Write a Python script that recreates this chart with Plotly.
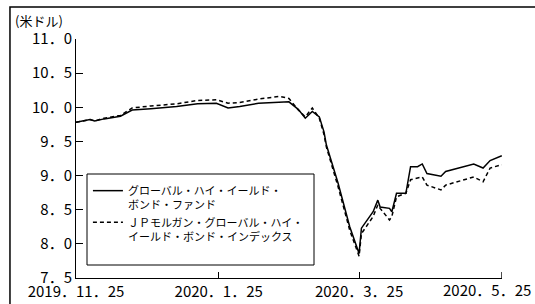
import plotly.graph_objects as go

dates = [
    "2019-11-25", "2019-12-01", "2019-12-03", "2019-12-07", "2019-12-14", "2019-12-19",
    "2019-12-27", "2020-01-07", "2020-01-16", "2020-01-24", "2020-01-29", "2020-02-03",
    "2020-02-11", "2020-02-20", "2020-02-24", "2020-02-28", "2020-03-02", "2020-03-05",
    "2020-03-08", "2020-03-10", "2020-03-11", "2020-03-16", "2020-03-21", "2020-03-25",
    "2020-03-26", "2020-03-31", "2020-04-02", "2020-04-03", "2020-04-07", "2020-04-08",
    "2020-04-10", "2020-04-14", "2020-04-16", "2020-04-19", "2020-04-21", "2020-04-23",
    "2020-04-29", "2020-05-01", "2020-05-13", "2020-05-17", "2020-05-20", "2020-05-25",
]
fund = [
    9.78, 9.82, 9.80, 9.83, 9.87, 9.96,
    9.98, 10.01, 10.05, 10.06, 9.99, 10.01,
    10.06, 10.08, 10.08, 9.97, 9.84, 9.94,
    9.86, 9.64, 9.45, 8.89, 8.25, 7.86,
    8.23, 8.47, 8.64, 8.54, 8.52, 8.47,
    8.74, 8.74, 9.13, 9.13, 9.17, 9.03,
    8.99, 9.06, 9.17, 9.11, 9.22, 9.29,
]
index = [
    9.78, 9.82, 9.80, 9.84, 9.88, 9.99,
    10.02, 10.05, 10.10, 10.11, 10.06, 10.07,
    10.12, 10.16, 10.13, 9.96, 9.86, 9.99,
    9.84, 9.60, 9.42, 8.84, 8.20, 7.82,
    8.15, 8.40, 8.57, 8.52, 8.35, 8.40,
    8.69, 8.74, 8.94, 8.96, 8.98, 8.86,
    8.79, 8.86, 8.98, 8.91, 9.11, 9.16,
]
names = ["グローバル・ハイ・イールド・<br>ボンド・ファンド",
         "ＪＰモルガン・グローバル・ハイ・<br>イールド・ボンド・インデックス"]
y_ticks = [7.5, 8.0, 8.5, 9.0, 9.5, 10.0, 10.5, 11.0]
y_ticktext = ["7．5", "8．0", "8．5", "9．0", "9．5", "10．0", "10．5", "11．0"]
x_ticks = ["2019-11-25", "2020-01-25", "2020-03-25", "2020-05-25"]
x_ticktext = ["2019．11．25", "2020．1．25", "2020．3．25", "2020．5．25"]
unit_label = "(米ドル)"

FONT = "Noto Sans CJK JP"

fig = go.Figure()
fig.add_trace(go.Scatter(x=dates, y=fund, mode="lines", name=names[0], legendgroup="a",
                         line=dict(color="black", width=1.5)))
fig.add_trace(go.Scatter(x=dates, y=index, mode="lines", name=names[1], legendgroup="b",
                         line=dict(color="black", width=1.5, dash="4px,3px")))

fig.update_layout(
    width=535, height=304,
    margin=dict(l=76, r=33, t=39, b=26, autoexpand=False),
    paper_bgcolor="white", plot_bgcolor="white",
    font=dict(family=FONT, color="black", size=15),
    showlegend=True,
    legend=dict(
        x=0.028, y=0.4226, xanchor="left", yanchor="top",
        borderwidth=0, bgcolor="rgba(0,0,0,0)",
        font=dict(family=FONT, size=11, color="black"),
        valign="top", traceorder="grouped", tracegroupgap=0,
    ),
    xaxis=dict(
        type="date", range=["2019-11-25", "2020-05-25 02:00"],
        tickmode="array", tickvals=x_ticks[:-1], ticktext=x_ticktext[:-1],
        ticks="inside", ticklen=6, tickcolor="black", tickwidth=1,
        showline=True, linecolor="black", linewidth=1,
        showgrid=False, zeroline=False, automargin=False,
        tickfont=dict(family=FONT, size=15, color="black"),
    ),
    yaxis=dict(
        range=[7.5, 11.0],
        tickmode="array", tickvals=y_ticks, ticktext=y_ticktext,
        ticks="inside", ticklen=7, tickcolor="black", tickwidth=1,
        showline=True, linecolor="black", linewidth=1,
        showgrid=False, zeroline=False, automargin=False,
        tickfont=dict(family=FONT, size=15, color="black"),
    ),
)

# last tick (mark on the axis) and its label, kept inside the page
fig.add_shape(type="line", xref="x", yref="paper",
              x0=x_ticks[-1], x1=x_ticks[-1], y0=0, y1=6 / 239,
              line=dict(color="black", width=1))
fig.add_annotation(
    text=x_ticktext[-1], xref="paper", yref="paper",
    x=(533 - 76) / 426, y=0, xanchor="right", yanchor="top", yshift=1,
    showarrow=False, font=dict(family=FONT, size=15, color="black"),
)

fig.add_annotation(
    text=unit_label, xref="paper", yref="paper",
    x=-0.148, y=1.078, xanchor="left", yanchor="middle",
    showarrow=False, font=dict(family=FONT, size=13, color="black"),
)

# legend box
fig.add_shape(type="rect", xref="paper", yref="paper",
              x0=(87 - 76) / 426, x1=(314 - 76) / 426,
              y0=1 - (265 - 39) / 239, y1=1 - (174 - 39) / 239,
              line=dict(color="black", width=1), fillcolor="white", layer="above")

# outer frame (partially clipped by the page edges)
fig.add_shape(type="rect", xref="paper", yref="paper",
              x0=-0.155, x1=1.1, y0=-0.2, y1=1.134,
              line=dict(color="black", width=1.5), fillcolor="rgba(0,0,0,0)")

fig.write_html(
    "out.html",
    config={"displayModeBar": False},
    post_script="document.body.style.margin='0';document.body.style.overflow='hidden';",
)
